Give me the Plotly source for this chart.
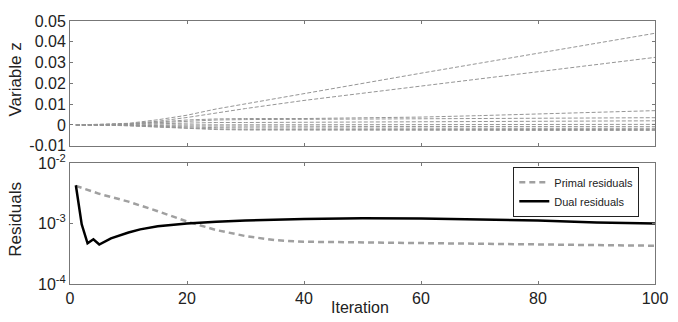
import plotly.graph_objects as go
from plotly.subplots import make_subplots

# ---------------- data ----------------
iter_z = [1, 5, 10, 15, 20, 25, 30, 40, 50, 60, 70, 80, 90, 100]
z1 = [0, 0.0002, 0.0008, 0.0025, 0.0047, 0.0077, 0.0102, 0.0152, 0.0201, 0.0249, 0.0297, 0.0345, 0.0393, 0.0441]
z2 = [0, 0.0001, 0.0006, 0.0018, 0.0036, 0.0058, 0.0079, 0.0118, 0.0153, 0.0188, 0.0222, 0.0256, 0.0291, 0.0325]
z3 = [0, 0.0001, 0.0005, 0.0014, 0.0024, 0.0029, 0.0031, 0.0031, 0.0033, 0.0038, 0.0045, 0.0052, 0.0060, 0.0069]
z4 = [0, 0.0001, 0.0004, 0.0011, 0.0019, 0.0024, 0.0026, 0.0027, 0.0028, 0.0030, 0.0031, 0.0032, 0.0034, 0.0035]
z5 = [0, 0, 0.0002, 0.0006, 0.0010, 0.0012, 0.0012, 0.0013, 0.0014, 0.0015, 0.0016, 0.0017, 0.0019, 0.0020]
z6 = [0, 0, 0.0001, 0.0002, 0.0003, 0.0003, 0.0003, 0.0002, 0.0002, 0.0002, 0.0003, 0.0003, 0.0003, 0.0003]
z7 = [0, 0, -0.0001, -0.0003, -0.0005, -0.0006, -0.0006, -0.0006, -0.0007, -0.0007, -0.0007, -0.0008, -0.0008, -0.0008]
z8 = [0, 0, -0.0002, -0.0006, -0.0010, -0.0013, -0.0014, -0.0015, -0.0015, -0.0015, -0.0016, -0.0016, -0.0016, -0.0016]
z9 = [0, 0, -0.0003, -0.0009, -0.0015, -0.0019, -0.0021, -0.0021, -0.0022, -0.0022, -0.0022, -0.0022, -0.0022, -0.0022]
z10 = [0, 0, -0.0004, -0.0011, -0.0018, -0.0022, -0.0024, -0.0025, -0.0025, -0.0026, -0.0026, -0.0026, -0.0026, -0.0026]
z_series = [z1, z2, z3, z4, z5, z6, z7, z8, z9, z10]

iter_primal = [1, 5, 10, 15, 20, 25, 30, 35, 40, 50, 60, 70, 80, 90, 100]
primal = [4.2e-3, 3.1e-3, 2.3e-3, 1.6e-3, 1.08e-3, 7.8e-4, 6.2e-4, 5.3e-4, 5.0e-4,
          4.9e-4, 4.8e-4, 4.7e-4, 4.6e-4, 4.4e-4, 4.3e-4]

iter_dual = [1, 2, 3, 4, 5, 7, 10, 12, 15, 20, 25, 30, 40, 50, 60, 70, 80, 90, 100]
dual = [4.3e-3, 9.7e-4, 4.7e-4, 5.5e-4, 4.5e-4, 5.7e-4, 7.1e-4, 8.0e-4, 9.0e-4, 1.0e-3,
        1.07e-3, 1.12e-3, 1.19e-3, 1.22e-3, 1.21e-3, 1.17e-3, 1.12e-3, 1.04e-3, 1.0e-3]

x_ticks = [0, 20, 40, 60, 80, 100]
z_ticks = [0.05, 0.04, 0.03, 0.02, 0.01, 0, -0.01]
z_tick_text = ["0.05", "0.04", "0.03", "0.02", "0.01", "0", "-0.01"]
r_ticks = [1e-4, 1e-3, 1e-2]
r_tick_text = ["10<sup>-4</sup>", "10<sup>-3</sup>", "10<sup>-2</sup>"]

# ---------------- figure ----------------
FONT = "Liberation Sans, Arial, sans-serif"
W, H = 678, 322
ML, MR, MT, MB = 70, 12, 10, 38
plot_h = H - MT - MB


def py(pixel_y):
    return (H - MB - pixel_y) / plot_h


def px(pixel_x):
    return (pixel_x - ML) / (W - ML - MR)


fig = make_subplots(rows=2, cols=1, shared_xaxes=False)

for s in z_series:
    fig.add_trace(go.Scatter(x=iter_z, y=s, mode="lines",
                             line=dict(color="#959595", width=1, dash="4px,2px"),
                             showlegend=False, hoverinfo="skip"), row=1, col=1)

fig.add_trace(go.Scatter(x=iter_primal, y=primal, mode="lines", name="Primal residuals",
                         line=dict(color="#a0a0a0", width=2.5, dash="6px,4px")), row=2, col=1)
fig.add_trace(go.Scatter(x=iter_dual, y=dual, mode="lines", name="Dual residuals",
                         line=dict(color="black", width=2.5)), row=2, col=1)

axis_common = dict(showgrid=False, zeroline=False, showline=True, mirror="ticks",
                   linecolor="#777", linewidth=1, ticks="inside", ticklen=3,
                   tickcolor="#777", ticklabeloverflow="allow",
                   tickfont=dict(family=FONT, size=16, color="#222"))

fig.update_layout(
    width=W, height=H,
    margin=dict(l=ML, r=MR, t=MT, b=MB),
    paper_bgcolor="white", plot_bgcolor="white",
    font=dict(family=FONT, color="#222"),
    xaxis=dict(domain=[0, 1], range=[0, 100], tickvals=x_ticks, showticklabels=False, **axis_common),
    yaxis=dict(domain=[py(140), 1], range=[-0.01, 0.05], tickvals=z_ticks, ticktext=z_tick_text,
               **axis_common),
    xaxis2=dict(domain=[0, 1], range=[0, 100], tickvals=x_ticks, ticktext=[str(v) for v in x_ticks],
                **axis_common),
    yaxis2=dict(domain=[0, py(158)], type="log", range=[-4, -2], tickvals=r_ticks,
                ticktext=r_tick_text, **axis_common),
    legend=dict(x=px(650), y=py(188), xanchor="right", yanchor="middle",
                bgcolor="white", bordercolor="#222", borderwidth=1,
                font=dict(family=FONT, size=11, color="#222"),
                tracegroupgap=0, itemwidth=30),
    annotations=[
        dict(text="Variable z", xref="paper", yref="paper", x=px(15), y=py(71),
             textangle=-90, showarrow=False, font=dict(family=FONT, size=17, color="#222"),
             xanchor="center", yanchor="middle"),
        dict(text="Residuals", xref="paper", yref="paper", x=px(15), y=py(217),
             textangle=-90, showarrow=False, font=dict(family=FONT, size=17, color="#222"),
             xanchor="center", yanchor="middle"),
        dict(text="Iteration", xref="paper", yref="paper", x=px(365), y=py(308),
             showarrow=False, font=dict(family=FONT, size=16, color="#222"),
             xanchor="center", yanchor="middle"),
    ],
)

fig.write_html("out.html", config={"displayModeBar": False},
               post_script="document.body.style.margin='0';document.body.style.overflow='hidden';")
